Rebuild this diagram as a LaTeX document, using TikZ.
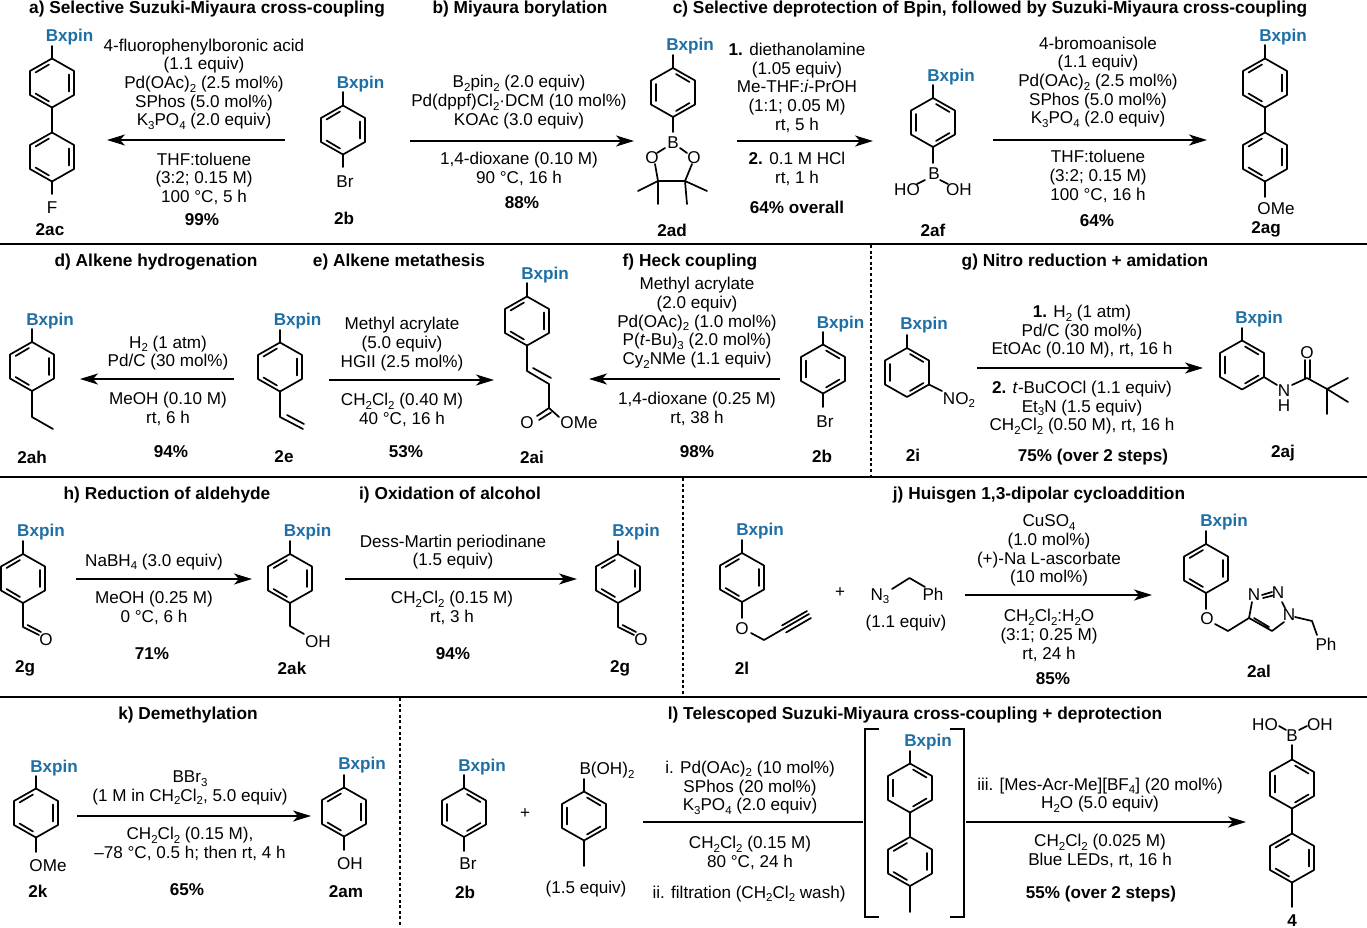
\documentclass[tikz,border=0pt]{standalone}
\usepackage{fontspec}
\setmainfont{Liberation Sans}
\usetikzlibrary{arrows.meta}
\definecolor{bxblue}{RGB}{31,111,165}
\newcommand{\subs}[1]{\raisebox{-3.6pt}{\fontsize{11.5}{11.5}\selectfont #1}}
\tikzset{
  bond/.style={line width=1.7pt,line cap=round,line join=round},
  rxn/.style={line width=2pt,-{Stealth[length=18pt,width=11pt,inset=5pt]}},
  rule/.style={line width=2pt},
  split/.style={line width=1.7pt,dash pattern=on 3pt off 2.6pt},
  cond/.style={align=center,inner sep=0pt,yshift=-1.7pt,font=\fontsize{17.1}{18.7}\selectfont},
  atom/.style={inner sep=0pt,yshift=-1pt,font=\fontsize{17.1}{18.7}\selectfont},
  yield/.style={inner sep=0pt,yshift=-1pt,font=\fontsize{17.1}{18.7}\selectfont\bfseries},
  cmpd/.style={inner sep=0pt,yshift=-1pt,font=\fontsize{17.1}{18.7}\selectfont\bfseries},
  head/.style={inner sep=0pt,yshift=-1.5pt,font=\fontsize{17.3}{18.7}\selectfont\bfseries},
  bx/.style={inner sep=0pt,yshift=-1.7pt,text=bxblue,font=\fontsize{17.1}{18.7}\selectfont\bfseries},
}
% benzene rings, two Kekule forms
\newcommand{\ringL}[2]{\begin{scope}[shift={(#1,#2)}]
  \draw[bond](0,-24.5)--(22,-12)--(22,12)--(0,24.5)--(-22,12)--(-22,-12)--cycle;
  \draw[bond](-3,-18.5)--(-16.5,-10.5) (17,-8.5)--(17,8.5) (-16.5,10.5)--(-3,18.5);
\end{scope}}
\newcommand{\ringR}[2]{\begin{scope}[shift={(#1,#2)}]
  \draw[bond](0,-24.5)--(22,-12)--(22,12)--(0,24.5)--(-22,12)--(-22,-12)--cycle;
  \draw[bond](3,-18.5)--(16.5,-10.5) (-17,-8.5)--(-17,8.5) (16.5,10.5)--(3,18.5);
\end{scope}}
\begin{document}
\begin{tikzpicture}[x=1pt,y=-1pt]
  \useasboundingbox (0,0) rectangle (1367,928);
  % dividing lines
  \coordinate (r1a) at (0,244); \coordinate (r1b) at (1367,244);
  \coordinate (r2a) at (0,477); \coordinate (r2b) at (1367,477);
  \coordinate (r3a) at (0,697); \coordinate (r3b) at (1367,697);
  \draw[rule](r1a)--(r1b) (r2a)--(r2b) (r3a)--(r3b);
  \coordinate (d1a) at (871,245); \coordinate (d1b) at (871,476);
  \coordinate (d2a) at (683,478); \coordinate (d2b) at (683,696);
  \coordinate (d3a) at (400,698); \coordinate (d3b) at (400,927);
  \draw[split](d1a)--(d1b) (d2a)--(d2b) (d3a)--(d3b);

  % a)
  \node[head] (aTitle) at (207,8) {a) Selective Suzuki-Miyaura cross-coupling};
  \ringL{52}{83} \ringL{52}{157}
  \draw[bond](52,46)--(52,58.5) (52,107.5)--(52,132.5) (52,181.5)--(52,194);
  \node[bx] (bxAc) at (69.5,35) {Bxpin};
  \node[atom] (fAc) at (52,207) {F};
  \node[cmpd] (nAc) at (50,229) {2ac};
  \node[cond] (aUp) at (204,82.5) {4-fluorophenylboronic acid\\(1.1 equiv)\\Pd(OAc)\subs{2} (2.5 mol\%)\\SPhos (5.0 mol\%)\\K\subs{3}PO\subs{4} (2.0 equiv)};
  \coordinate (aFrom) at (285,140); \coordinate (aTo) at (107,140);
  \draw[rxn](aFrom)--(aTo);
  \node[cond] (aDown) at (204,177) {THF:toluene\\(3:2; 0.15 M)\\100 °C, 5 h};
  \node[yield] (aYield) at (202,219) {99\%};
  \ringL{343}{130}
  \draw[bond](343,92)--(343,105.5) (343,154.5)--(343,167);
  \node[bx] (bxBa) at (360.5,82) {Bxpin};
  \node[atom] (brBa) at (345,181) {Br};
  \node[cmpd] (nBa) at (344,217) {2b};

  % b)
  \node[head] (bTitle) at (520,8) {b) Miyaura borylation};
  \node[cond] (bUp) at (519,100.5) {B\subs{2}pin\subs{2} (2.0 equiv)\\Pd(dppf)Cl\subs{2}·DCM (10 mol\%)\\KOAc (3.0 equiv)};
  \coordinate (bFrom) at (410,141); \coordinate (bTo) at (634,141);
  \draw[rxn](bFrom)--(bTo);
  \node[cond] (bDown) at (519,167) {1,4-dioxane (0.10 M)\\90 °C, 16 h};
  \node[yield] (bYield) at (522,202) {88\%};
  \ringR{673}{92.5}
  \draw[bond](673,55)--(673,68) (673,117)--(673,132);
  \node[bx] (bxAd) at (690,44) {Bxpin};
  \node[atom] (bAd) at (673,142) {B};
  \node[atom] (olAd) at (652,157) {O};
  \node[atom] (orAd) at (694,157) {O};
  \draw[bond](665,148)--(657,153) (680,148)--(687,153) (655,164)--(658,181)--(685,181)--(692,164);
  \draw[bond](658,181)--(638,191) (658,181)--(658,204) (685,181)--(707,191) (685,181)--(687,204);
  \node[cmpd] (nAd) at (672,229) {2ad};

  % c)
  \node[head] (cTitle) at (990,8) {c) Selective deprotection of Bpin, followed by Suzuki-Miyaura cross-coupling};
  \node[cond] (cUpA) at (797,86) {{\bfseries 1.} diethanolamine\\(1.05 equiv)\\Me-THF:\textit{i}-PrOH\\(1:1; 0.05 M)\\rt, 5 h};
  \coordinate (cFromA) at (737,141); \coordinate (cToA) at (873,141);
  \draw[rxn](cFromA)--(cToA);
  \node[cond] (cDownA) at (797,167.5) {{\bfseries 2.} 0.1 M HCl\\rt, 1 h};
  \node[yield] (cYieldA) at (797,206) {64\% overall};
  \ringR{933}{122.5}
  \draw[bond](933,85)--(933,98) (933,147)--(933,163);
  \node[bx] (bxAf) at (951,75) {Bxpin};
  \node[atom] (bAf) at (934,173) {B};
  \node[atom] (hoAf) at (907,189) {HO};
  \node[atom] (ohAf) at (959,189) {OH};
  \draw[bond](917,184)--(925,180) (940,180)--(948,184);
  \node[cmpd] (nAf) at (933,229) {2af};
  \node[cond] (cUpB) at (1098,80.5) {4-bromoanisole\\(1.1 equiv)\\Pd(OAc)\subs{2} (2.5 mol\%)\\SPhos (5.0 mol\%)\\K\subs{3}PO\subs{4} (2.0 equiv)};
  \coordinate (cFromB) at (993,140); \coordinate (cToB) at (1207,140);
  \draw[rxn](cFromB)--(cToB);
  \node[cond] (cDownB) at (1098,174.5) {THF:toluene\\(3:2; 0.15 M)\\100 °C, 16 h};
  \node[yield] (cYieldB) at (1097,220) {64\%};
  \ringL{1265}{83} \ringL{1265}{157}
  \draw[bond](1265,45)--(1265,58.5) (1265,107.5)--(1265,132.5) (1265,181.5)--(1265,197);
  \node[bx] (bxAg) at (1283,35) {Bxpin};
  \node[atom] (omeAg) at (1276,208) {OMe};
  \node[cmpd] (nAg) at (1266,228) {2ag};

  % d)
  \node[head] (dTitle) at (156,261) {d) Alkene hydrogenation};
  \ringL{32}{366.5}
  \draw[bond](32,329)--(32,342) (32,391)--(32,417)--(53,429);
  \node[bx] (bxAh) at (50,319) {Bxpin};
  \node[cmpd] (nAh) at (32,456) {2ah};
  \node[cond] (dUp) at (168,351.5) {H\subs{2} (1 atm)\\Pd/C (30 mol\%)};
  \coordinate (dFrom) at (234,379); \coordinate (dTo) at (80,379);
  \draw[rxn](dFrom)--(dTo);
  \node[cond] (dDown) at (168,407.5) {MeOH (0.10 M)\\rt, 6 h};
  \node[yield] (dYield) at (171,451) {94\%};

  % e)
  \node[head] (eTitle) at (399,261) {e) Alkene metathesis};
  \ringL{280}{367}
  \draw[bond](280,330)--(280,343) (280,391.5)--(280,417)--(303,429) (287,415)--(304,424);
  \node[bx] (bxE) at (297.5,319) {Bxpin};
  \node[cmpd] (nE) at (284,456) {2e};
  \node[cond] (eUp) at (402,342.5) {Methyl acrylate\\(5.0 equiv)\\HGII (2.5 mol\%)};
  \coordinate (eFrom) at (329,380); \coordinate (eTo) at (494,380);
  \draw[rxn](eFrom)--(eTo);
  \node[cond] (eDown) at (402,408) {CH\subs{2}Cl\subs{2} (0.40 M)\\40 °C, 16 h};
  \node[yield] (eYield) at (406,451) {53\%};

  % f)
  \ringL{527}{321}
  \draw[bond](527,283)--(527,296.5) (527,345.5)--(527,371)--(549,384)--(549,408)
    (533,368)--(551,378) (549,408)--(537,416) (551,412.5)--(539,420) (549,408)--(559,417);
  \node[bx] (bxAi) at (545,273) {Bxpin};
  \node[atom] (oAi) at (527,422) {O};
  \node[atom] (omeAi) at (579,422) {OMe};
  \node[cmpd] (nAi) at (532,456) {2ai};
  \node[head] (fTitle) at (690,261) {f) Heck coupling};
  \node[cond] (fUp) at (697,321) {Methyl acrylate\\(2.0 equiv)\\Pd(OAc)\subs{2} (1.0 mol\%)\\P(\textit{t}-Bu)\subs{3} (2.0 mol\%)\\Cy\subs{2}NMe (1.1 equiv)};
  \coordinate (fFrom) at (780,379); \coordinate (fTo) at (589,379);
  \draw[rxn](fFrom)--(fTo);
  \node[cond] (fDown) at (697,407.5) {1,4-dioxane (0.25 M)\\rt, 38 h};
  \node[yield] (fYield) at (697,451) {98\%};
  \ringR{823}{369}
  \draw[bond](823,332)--(823,344.5) (823,393.5)--(823,407);
  \node[bx] (bxBf) at (840.5,322) {Bxpin};
  \node[atom] (brBf) at (825,421) {Br};
  \node[cmpd] (nBf) at (822,455) {2b};

  % g)
  \node[head] (gTitle) at (1085,261) {g) Nitro reduction + amidation};
  \ringR{907}{372.5}
  \draw[bond](907,335)--(907,348) (929,384.5)--(942,391);
  \node[bx] (bxI) at (924,323) {Bxpin};
  \node[atom] (noI) at (959,399) {NO\subs{2}};
  \node[cmpd] (nI) at (913,454) {2i};
  \node[cond] (gUp) at (1082,330) {{\bfseries 1.} H\subs{2} (1 atm)\\Pd/C (30 mol\%)\\EtOAc (0.10 M), rt, 16 h};
  \coordinate (gFrom) at (977,368); \coordinate (gTo) at (1203,368);
  \draw[rxn](gFrom)--(gTo);
  \node[cond] (gDown) at (1082,406) {{\bfseries 2.} \textit{t}-BuCOCl (1.1 equiv)\\Et\subs{3}N (1.5 equiv)\\CH\subs{2}Cl\subs{2} (0.50 M), rt, 16 h};
  \node[yield] (gYield) at (1093,456) {75\% (over 2 steps)};
  \ringR{1242}{365}
  \draw[bond](1242,328)--(1242,340.5) (1264,377)--(1277,385) (1292,385)--(1307,378)
    (1305,378)--(1305,360) (1310,378)--(1310,360) (1307,378)--(1327,389)--(1348,378)
    (1327,389)--(1348,402) (1327,389)--(1327,414);
  \node[bx] (bxAj) at (1259,317) {Bxpin};
  \node[atom] (nhAj) at (1284,390) {N};
  \node[atom] (hAj) at (1284,405) {H};
  \node[atom] (oAj) at (1307,352) {O};
  \node[cmpd] (nAj) at (1283,452) {2aj};

  % h)
  \node[head] (hTitle) at (167,494) {h) Reduction of aldehyde};
  \ringL{23}{578.5}
  \draw[bond](23,541)--(23,554) (23,603)--(23,627)--(39,635) (27.5,625)--(41,632);
  \node[bx] (bxGa) at (41,530) {Bxpin};
  \node[atom] (oGa) at (46,639) {O};
  \node[cmpd] (nGa) at (25,667) {2g};
  \node[cond] (hUp) at (154,560) {NaBH\subs{4} (3.0 equiv)};
  \coordinate (hFrom) at (76,579); \coordinate (hTo) at (252,579);
  \draw[rxn](hFrom)--(hTo);
  \node[cond] (hDown) at (154,606.5) {MeOH (0.25 M)\\0 °C, 6 h};
  \node[yield] (hYield) at (152,653) {71\%};
  \ringL{290}{578.5}
  \draw[bond](290,541)--(290,554) (290,603)--(290,626)--(304,634);
  \node[bx] (bxAk) at (307.5,530) {Bxpin};
  \node[atom] (ohAk) at (318,641) {OH};
  \node[cmpd] (nAk) at (292,667) {2ak};

  % i)
  \node[head] (iTitle) at (450,494) {i) Oxidation of alcohol};
  \node[cond] (iUp) at (453,550.5) {Dess-Martin periodinane\\(1.5 equiv)};
  \coordinate (iFrom) at (345,579); \coordinate (iTo) at (577,579);
  \draw[rxn](iFrom)--(iTo);
  \node[cond] (iDown) at (452,606.5) {CH\subs{2}Cl\subs{2} (0.15 M)\\rt, 3 h};
  \node[yield] (iYield) at (453,653) {94\%};
  \ringL{618}{578.5}
  \draw[bond](618,541)--(618,554) (618,603)--(618,627)--(634,635) (622.5,625)--(636,632);
  \node[bx] (bxGb) at (636,530) {Bxpin};
  \node[atom] (oGb) at (641,639) {O};
  \node[cmpd] (nGb) at (620,667) {2g};

  % j)
  \node[head] (jTitle) at (1039,494) {j) Huisgen 1,3-dipolar cycloaddition};
  \ringL{742}{577.5}
  \draw[bond](742,540)--(742,553) (742,602)--(742,618) (751,633)--(764,640)--(809,614)
    (782,625.5)--(807,611) (786,632.5)--(811,618);
  \node[bx] (bxL) at (760,529) {Bxpin};
  \node[atom] (oL) at (742,628) {O};
  \node[cmpd] (nL) at (742,667) {2l};
  \node[atom] (plusJ) at (840,592) {+};
  \node[atom] (nnnJ) at (880,595) {N\subs{3}};
  \node[atom] (phJ) at (933,593) {Ph};
  \draw[bond](892,589)--(909.5,578)--(925,587);
  \node[atom] (eqJ) at (906,622) {(1.1 equiv)};
  \node[cond] (jUp) at (1049,549) {CuSO\subs{4}\\(1.0 mol\%)\\(+)-Na L-ascorbate\\(10 mol\%)};
  \coordinate (jFrom) at (965,595); \coordinate (jTo) at (1152,595);
  \draw[rxn](jFrom)--(jTo);
  \node[cond] (jDown) at (1049,633.5) {CH\subs{2}Cl\subs{2}:H\subs{2}O\\(3:1; 0.25 M)\\rt, 24 h};
  \node[yield] (jYield) at (1053,678) {85\%};
  \ringL{1206}{568.5}
  \draw[bond](1206,531)--(1206,544) (1206,593)--(1206,609) (1215,624)--(1228,631)--(1249,618)
    (1249,618)--(1252,602) (1262,595)--(1272,592) (1263,598)--(1273,595.5) (1282,602)--(1285,608)
    (1284,622)--(1272,631)--(1249,618) (1254,618)--(1269,627) (1295,617)--(1312,621)--(1317,635);
  \node[bx] (bxAl) at (1224,520) {Bxpin};
  \node[atom] (oAl) at (1207,618) {O};
  \node[atom] (naAl) at (1254,594) {N};
  \node[atom] (nbAl) at (1278,592) {N};
  \node[atom] (ncAl) at (1289,614) {N};
  \node[atom] (phAl) at (1326,643) {Ph};
  \node[cmpd] (nAl) at (1259,670) {2al};

  % k)
  \node[head] (kTitle) at (188,714) {k) Demethylation};
  \ringL{36}{813}
  \draw[bond](36,776)--(36,788.5) (36,837.5)--(36,852);
  \node[bx] (bxK) at (54,766) {Bxpin};
  \node[atom] (omeK) at (48,865) {OMe};
  \node[cmpd] (nK) at (38,890) {2k};
  \node[cond] (kUp) at (190,786) {BBr\subs{3}\\(1 M in CH\subs{2}Cl\subs{2}, 5.0 equiv)};
  \coordinate (kFrom) at (77,816); \coordinate (kTo) at (311,816);
  \draw[rxn](kFrom)--(kTo);
  \node[cond] (kDown) at (190,842.5) {CH\subs{2}Cl\subs{2} (0.15 M),\\--78 °C, 0.5 h; then rt, 4 h};
  \node[yield] (kYield) at (187,889) {65\%};
  \ringL{344}{812}
  \draw[bond](344,775)--(344,787.5) (344,836.5)--(344,850);
  \node[bx] (bxAm) at (362,763) {Bxpin};
  \node[atom] (ohAm) at (350,863) {OH};
  \node[cmpd] (nAm) at (346,891) {2am};

  % l)
  \node[head] (lTitle) at (915,714) {l) Telescoped Suzuki-Miyaura cross-coupling + deprotection};
  \ringR{464}{812.5}
  \draw[bond](464,775)--(464,788) (464,837)--(464,851);
  \node[bx] (bxBl) at (482,765) {Bxpin};
  \node[atom] (brBl) at (468,863) {Br};
  \node[cmpd] (nBl) at (465,891) {2b};
  \node[atom] (plusL) at (525,813) {+};
  \ringR{584}{816}
  \draw[bond](584,779)--(584,791.5) (584,840.5)--(584,866);
  \node[atom] (boh) at (607,769) {B(OH)\subs{2}};
  \node[atom] (eqL) at (586,888) {(1.5 equiv)};
  \node[cond] (lUpA) at (750,786) {i. Pd(OAc)\subs{2} (10 mol\%)\\SPhos (20 mol\%)\\K\subs{3}PO\subs{4} (2.0 equiv)};
  \coordinate (lFromA) at (643,822); \coordinate (lToA) at (863,822);
  \draw[line width=2pt](lFromA)--(lToA);
  \node[cond] (lDownA) at (750,851.5) {CH\subs{2}Cl\subs{2} (0.15 M)\\80 °C, 24 h};
  \node[cond] (lWash) at (749,892) {ii. filtration (CH\subs{2}Cl\subs{2} wash)};
  % bracketed intermediate
  \draw[line width=1.8pt](879,729)--(865,729)--(865,917)--(879,917);
  \draw[line width=1.8pt](950,729)--(964,729)--(964,917)--(950,917);
  \ringR{910}{788} \ringL{910}{861.5}
  \draw[bond](910,751)--(910,763.5) (910,812.5)--(910,837) (910,886)--(910,912);
  \node[bx] (bxInt) at (928,740) {Bxpin};
  \coordinate (lFromB) at (966,822); \coordinate (lToB) at (1246,822);
  \draw[rxn](lFromB)--(lToB);
  \node[cond] (lUpB) at (1100,793.5) {iii. [Mes-Acr-Me][BF\subs{4}] (20 mol\%)\\H\subs{2}O (5.0 equiv)};
  \node[cond] (lDownB) at (1100,849.5) {CH\subs{2}Cl\subs{2} (0.025 M)\\Blue LEDs, rt, 16 h};
  \node[yield] (lYield) at (1101,893) {55\% (over 2 steps)};
  \ringR{1292}{784} \ringL{1292}{858}
  \draw[bond](1292,745)--(1292,759.5) (1279,726)--(1286,730) (1299,730)--(1307,726)
    (1292,808.5)--(1292,833.5) (1292,882.5)--(1292,907);
  \node[atom] (bFour) at (1292,735) {B};
  \node[atom] (hoFour) at (1265,724) {HO};
  \node[atom] (ohFour) at (1320,724) {OH};
  \node[cmpd,yshift=1pt] (nFour) at (1292,921) {4};
\end{tikzpicture}
\end{document}
